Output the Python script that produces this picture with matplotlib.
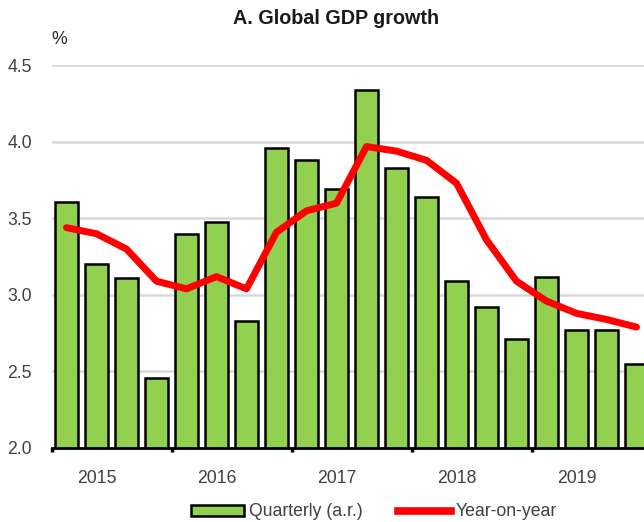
import numpy as np
import matplotlib
matplotlib.use("Agg")
import matplotlib.pyplot as plt
from matplotlib.patches import Patch
from matplotlib.lines import Line2D

plt.rcParams['font.family'] = ['Liberation Sans', 'DejaVu Sans']

# Global GDP growth, 2015Q1 - 2019Q4
quarterly = [3.61, 3.20, 3.11, 2.46,
             3.40, 3.48, 2.83, 3.96,
             3.88, 3.69, 4.34, 3.83,
             3.64, 3.09, 2.92, 2.71,
             3.12, 2.77, 2.77, 2.55]
yoy = [3.44, 3.40, 3.30, 3.09,
       3.04, 3.12, 3.04, 3.41,
       3.55, 3.60, 3.97, 3.94,
       3.88, 3.73, 3.36, 3.09,
       2.96, 2.88, 2.84, 2.79]
years = ['2015', '2016', '2017', '2018', '2019']

GREEN = '#92D050'
RED = '#FF0000'
TXT = '#404040'

fig = plt.figure(figsize=(6.44, 5.22), dpi=100)
ax = fig.add_axes([0.080, 0.1418, 0.9317, 0.7328])

x = np.arange(len(quarterly))
ax.bar(x, quarterly, width=0.78, bottom=0, color=GREEN, edgecolor='black',
       linewidth=1.8, zorder=2)
ax.plot(x, yoy, color=RED, linewidth=5, solid_joinstyle='round',
        solid_capstyle='round', zorder=3)

ax.set_xlim(-0.5, len(quarterly) - 0.5)
ax.set_ylim(2.0, 4.5)
ax.set_yticks(np.arange(2.0, 4.51, 0.5))
ax.set_yticklabels(['%.1f' % v for v in np.arange(2.0, 4.51, 0.5)])
ax.yaxis.grid(True, color='#d9d9d9', linewidth=1.8, zorder=0)
ax.set_axisbelow(True)

# year boundary ticks, labels under Q2 of each year
ax.set_xticks(np.arange(-0.5, len(quarterly), 4))
ax.set_xticklabels([])
ax.set_xticks(np.arange(1, len(quarterly), 4), minor=True)
ax.set_xticklabels(years, minor=True)
ax.tick_params(axis='x', which='major', length=3, width=2.5, color='black')
ax.tick_params(axis='x', which='minor', length=0, pad=16, labelsize=12.7,
               labelcolor=TXT)
ax.tick_params(axis='y', length=0, pad=14, labelsize=12.7, labelcolor=TXT)

for s in ['top', 'right', 'left']:
    ax.spines[s].set_visible(False)
ax.spines['bottom'].set_linewidth(2)
ax.spines['bottom'].set_color('black')
ax.spines['bottom'].set_zorder(4)

ax.text(0.0, 1.045, '%', transform=ax.transAxes, fontsize=12.7,
        color='#262626', ha='left', va='bottom')

fig.text(336 / 644, 1 - 19 / 522, 'A. Global GDP growth', fontsize=14.2,
         fontweight='bold', color='#1a1a1a', ha='center', va='center')

handles = [Patch(facecolor=GREEN, edgecolor='black', linewidth=1.8),
           Line2D([0], [0], color=RED, linewidth=5.5)]
fig.legend(handles, ['Quarterly (a.r.)', 'Year-on-year'], loc='center',
           bbox_to_anchor=(374 / 644, 1 - 512 / 522), ncol=2, frameon=False,
           fontsize=12.7, labelcolor=TXT, handlelength=3.0, handleheight=0.62,
           handletextpad=0.3, columnspacing=2.0)

fig.savefig('out.png', dpi=100)
